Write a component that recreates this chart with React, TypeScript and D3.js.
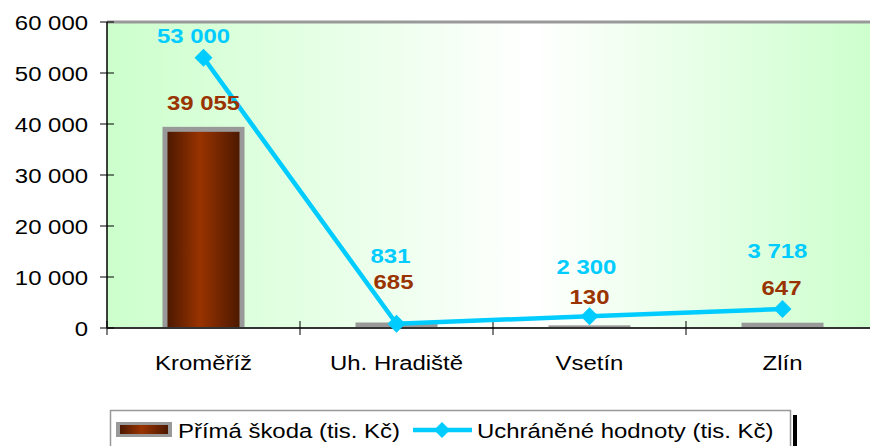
import React from 'react'
import * as d3 from 'd3'

const categories = ['Kroměříž', 'Uh. Hradiště', 'Vsetín', 'Zlín']
const damage = [39055, 685, 130, 647] // Přímá škoda (tis. Kč)
const saved = [53000, 831, 2300, 3718] // Uchráněné hodnoty (tis. Kč)
const yTicks = [0, 10000, 20000, 30000, 40000, 50000, 60000]

// manual label nudges, as in the original sheet
const damageLabelDx = [0, -3, 0, -1]
const damageLabelDy = [-19, -36, -23, -30]
const savedLabelDx = [-10, -6, -3, -5]
const savedLabelDy = [-15, -61, -42, -51]

const W = 870
const H = 446
const left = 107
const right = 879
const top = 22
const bottom = 328
const SX = 1.14 // the source image is stretched horizontally
const font = '"Liberation Sans", Arial, sans-serif'
const lineColor = '#00ccff'
const barText = '#993300'

const fmt = (v: number) => d3.format(',')(v).replace(/,/g, ' ')

function T({ x, y, anchor = 'middle', size = 21, bold = false, fill = '#000', children }: any) {
  return (
    <text
      transform={`translate(${x},${y}) scale(${SX},1)`}
      textAnchor={anchor}
      fontFamily={font}
      fontSize={size}
      fontWeight={bold ? 'bold' : 'normal'}
      fill={fill}>
      {children}
    </text>
  )
}

const diamond = (cx: number, cy: number, r: number) =>
  `M${cx},${cy - r}L${cx + r},${cy}L${cx},${cy + r}L${cx - r},${cy}Z`

export default function App() {
  const x = d3.scaleBand<string>().domain(categories).range([left, right]).padding(0)
  const y = d3.scaleLinear().domain([0, 60000]).range([bottom, top])
  const bw = x.bandwidth() * 0.425
  const cx = (c: string) => (x(c) as number) + x.bandwidth() / 2

  const line = d3.line<number>()
    .x((_, i) => cx(categories[i]))
    .y(d => y(d))

  return (
    <svg width={W} height={H} style={{ position: 'absolute', left: 0, top: 0, background: '#fff' }}>
      <defs>
        <linearGradient id="bg" x1="0" x2="1" y1="0" y2="0">
          <stop offset="0" stopColor="#ccffcc" />
          <stop offset="0.55" stopColor="#ffffff" />
          <stop offset="1" stopColor="#ccffcc" />
        </linearGradient>
        <linearGradient id="bar" x1="0" x2="1" y1="0" y2="0">
          <stop offset="0" stopColor="#4d1900" />
          <stop offset="0.45" stopColor="#993300" />
          <stop offset="1" stopColor="#4d1900" />
        </linearGradient>
      </defs>

      <rect x={left} y={top} width={right - left} height={bottom - top} fill="url(#bg)" />
      <line x1={left} x2={W} y1={top} y2={top} stroke="#999" strokeWidth={3} />

      {categories.map((c, i) => {
        const x0 = cx(c) - bw / 2
        const yt = y(damage[i])
        const inner = bottom - 1 - (yt + 3)
        return (
          <g key={c}>
            <rect x={x0} y={yt - 2} width={bw} height={bottom - yt + 2} fill="#999" />
            {inner > 0 && <rect x={x0 + 5} y={yt + 3} width={bw - 10} height={inner} fill="url(#bar)" />}
          </g>
        )
      })}

      {/* axes */}
      <line x1={left} x2={left} y1={top} y2={bottom} stroke="#000" strokeWidth={1.5} />
      <line x1={left} x2={W} y1={bottom} y2={bottom} stroke="#333" strokeWidth={2} />
      {yTicks.map(t => (
        <g key={t}>
          <line x1={left - 7} x2={left + 7} y1={y(t)} y2={y(t)} stroke="#000" strokeWidth={1} />
          <T x={88} y={y(t) + 7.5} anchor="end">{fmt(t)}</T>
        </g>
      ))}
      {categories.map(c => (
        <g key={c}>
          <line x1={x(c)} x2={x(c)} y1={bottom - 7} y2={bottom + 7} stroke="#000" strokeWidth={1} />
          <T x={cx(c)} y={370}>{c}</T>
        </g>
      ))}

      <path d={line(saved) || ''} fill="none" stroke={lineColor} strokeWidth={4.5} />
      {saved.map((v, i) => (
        <path key={i} d={diamond(cx(categories[i]), y(v), 9)} fill={lineColor} />
      ))}

      {damage.map((v, i) => (
        <T key={i} x={cx(categories[i]) + damageLabelDx[i]} y={y(v) + damageLabelDy[i]} bold fill={barText}>{fmt(v)}</T>
      ))}
      {saved.map((v, i) => (
        <T key={i} x={cx(categories[i]) + savedLabelDx[i]} y={y(v) + savedLabelDy[i]} bold fill={lineColor}>{fmt(v)}</T>
      ))}

      {/* legend */}
      <rect x={793} y={415} width={4} height={40} fill="#000" />
      <rect x={110.5} y={410.5} width={680} height={50} fill="#fff" stroke="#999" strokeWidth={1.5} />
      <rect x={116} y={422} width={56} height={15} fill="#999" />
      <rect x={120} y={425} width={48} height={9} fill="url(#bar)" />
      <T x={178} y={438} anchor="start">Přímá škoda (tis. Kč)</T>
      <line x1={413} x2={472} y1={430} y2={430} stroke={lineColor} strokeWidth={4.5} />
      <path d={diamond(442, 430, 8)} fill={lineColor} />
      <T x={477} y={438} anchor="start">Uchráněné hodnoty (tis. Kč)</T>
    </svg>
  )
}
